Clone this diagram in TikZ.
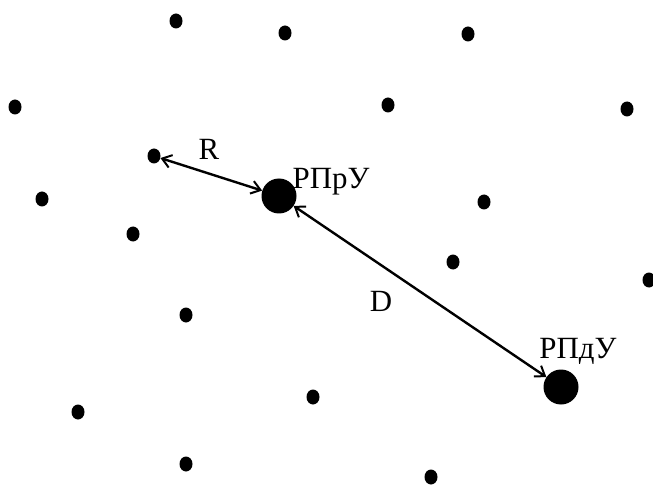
\documentclass[tikz,border=0pt]{standalone}
\usepackage{fontspec}
\setmainfont{Liberation Serif}
\usetikzlibrary{shapes.geometric,arrows.meta}
\tikzset{
  sdot/.style={ellipse,fill=black,inner sep=0pt,minimum width=13bp,minimum height=15bp},
  bdot/.style={circle,fill=black,inner sep=0pt,minimum size=35bp},
  lbl/.style={inner sep=0pt,anchor=base,font=\fontsize{31}{33}\selectfont},
  dist/.style={line width=2.4bp,{Straight Barb[length=9bp,width=13bp,line width=2bp]}-{Straight Barb[length=9bp,width=13bp,line width=2bp]}}
}
\begin{document}
\begin{tikzpicture}[x=1bp,y=-1bp]
\useasboundingbox (0,0) rectangle (653,486);
\node[sdot] (d1) at (176,21) {};
\node[sdot] (d2) at (285,33) {};
\node[sdot] (d3) at (468,34) {};
\node[sdot] (d4) at (15,107) {};
\node[sdot] (d5) at (388,105) {};
\node[sdot] (d6) at (627,109) {};
\node[sdot] (d7) at (154,156) {};
\node[sdot] (d8) at (42,199) {};
\node[sdot] (d9) at (133,234) {};
\node[sdot] (d10) at (484,202) {};
\node[sdot] (d11) at (186,315) {};
\node[sdot] (d12) at (453,262) {};
\node[sdot] (d13) at (649,280) {};
\node[sdot] (d14) at (313,397) {};
\node[sdot] (d15) at (78,412) {};
\node[sdot] (d16) at (186,464) {};
\node[sdot] (d17) at (431,477) {};
\node[bdot] (rpru) at (279,196) {};
\node[bdot] (rpdu) at (561,387) {};
\node[lbl] (tR) at (209,160) {R};
\node[lbl] (trpru) at (331,189) {РПрУ};
\node[lbl] (tD) at (381,311) {D};
\node[lbl] (trpdu) at (578,358) {РПдУ};
\draw[dist] (d7) -- (rpru);
\draw[dist] (rpru) -- (rpdu);
\end{tikzpicture}
\end{document}
